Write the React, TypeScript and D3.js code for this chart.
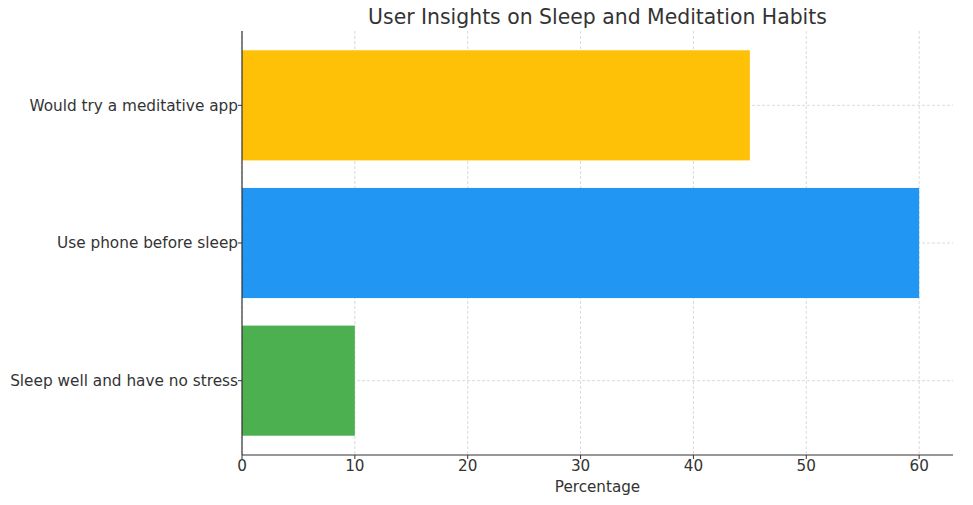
import React from "react";
import * as d3 from "d3";

const categories = ["Sleep well and have no stress", "Use phone before sleep", "Would try a meditative app"];
const values = [10, 60, 45];
const colors = ["#4CAF50", "#2196F3", "#FFC107"];
const xTicks = [0, 10, 20, 30, 40, 50, 60];
const title = "User Insights on Sleep and Meditation Habits";
const xLabel = "Percentage";

export default function App() {
  const W = 973, H = 505;
  const left = 242, right = 953, top = 31, bottom = 455;
  const x = d3.scaleLinear().domain([0, 63]).range([left, right]);
  const y = d3.scaleLinear().domain([-0.54, 2.54]).range([bottom, top]);
  const barH = 0.8;
  const font = "DejaVu Sans, sans-serif";
  const txt = "#333333";
  return (
    <svg width={W} height={H} style={{ position: "absolute", left: 0, top: 0, background: "#fff" }} fontFamily={font}>
      {xTicks.map((t) => (
        <line key={"gx" + t} x1={x(t)} x2={x(t)} y1={top} y2={bottom} stroke="#d0d0d0" strokeWidth={0.8} strokeDasharray="3,2" />
      ))}
      {categories.map((c, i) => (
        <line key={"gy" + i} x1={left} x2={right} y1={y(i)} y2={y(i)} stroke="#d0d0d0" strokeWidth={0.8} strokeDasharray="3,2" />
      ))}
      {categories.map((c, i) => (
        <rect key={"b" + i} x={x(0)} y={y(i + barH / 2)} width={x(values[i]) - x(0)} height={y(i - barH / 2) - y(i + barH / 2)} fill={colors[i]} />
      ))}
      <line x1={left} x2={left} y1={top} y2={bottom} stroke={txt} strokeWidth={1.2} />
      <line x1={left} x2={right} y1={bottom} y2={bottom} stroke={txt} strokeWidth={1.2} />
      {xTicks.map((t) => (
        <g key={"tx" + t}>
          <line x1={x(t)} x2={x(t)} y1={bottom} y2={bottom + 4} stroke={txt} strokeWidth={1} />
          <text x={x(t)} y={bottom + 16} textAnchor="middle" fontSize={15.2} fill={txt}>{t}</text>
        </g>
      ))}
      {categories.map((c, i) => (
        <g key={"ty" + i}>
          <line x1={left - 4} x2={left} y1={y(i)} y2={y(i)} stroke={txt} strokeWidth={1} />
          <text x={left - 4} y={y(i)} dy="0.35em" textAnchor="end" fontSize={15.3} fill={txt}>{c}</text>
        </g>
      ))}
      <text x={(left + right) / 2} y={492} textAnchor="middle" fontSize={15.2} fill={txt}>{xLabel}</text>
      <text x={(left + right) / 2} y={24} textAnchor="middle" fontSize={20.4} fill={txt}>{title}</text>
    </svg>
  );
}
